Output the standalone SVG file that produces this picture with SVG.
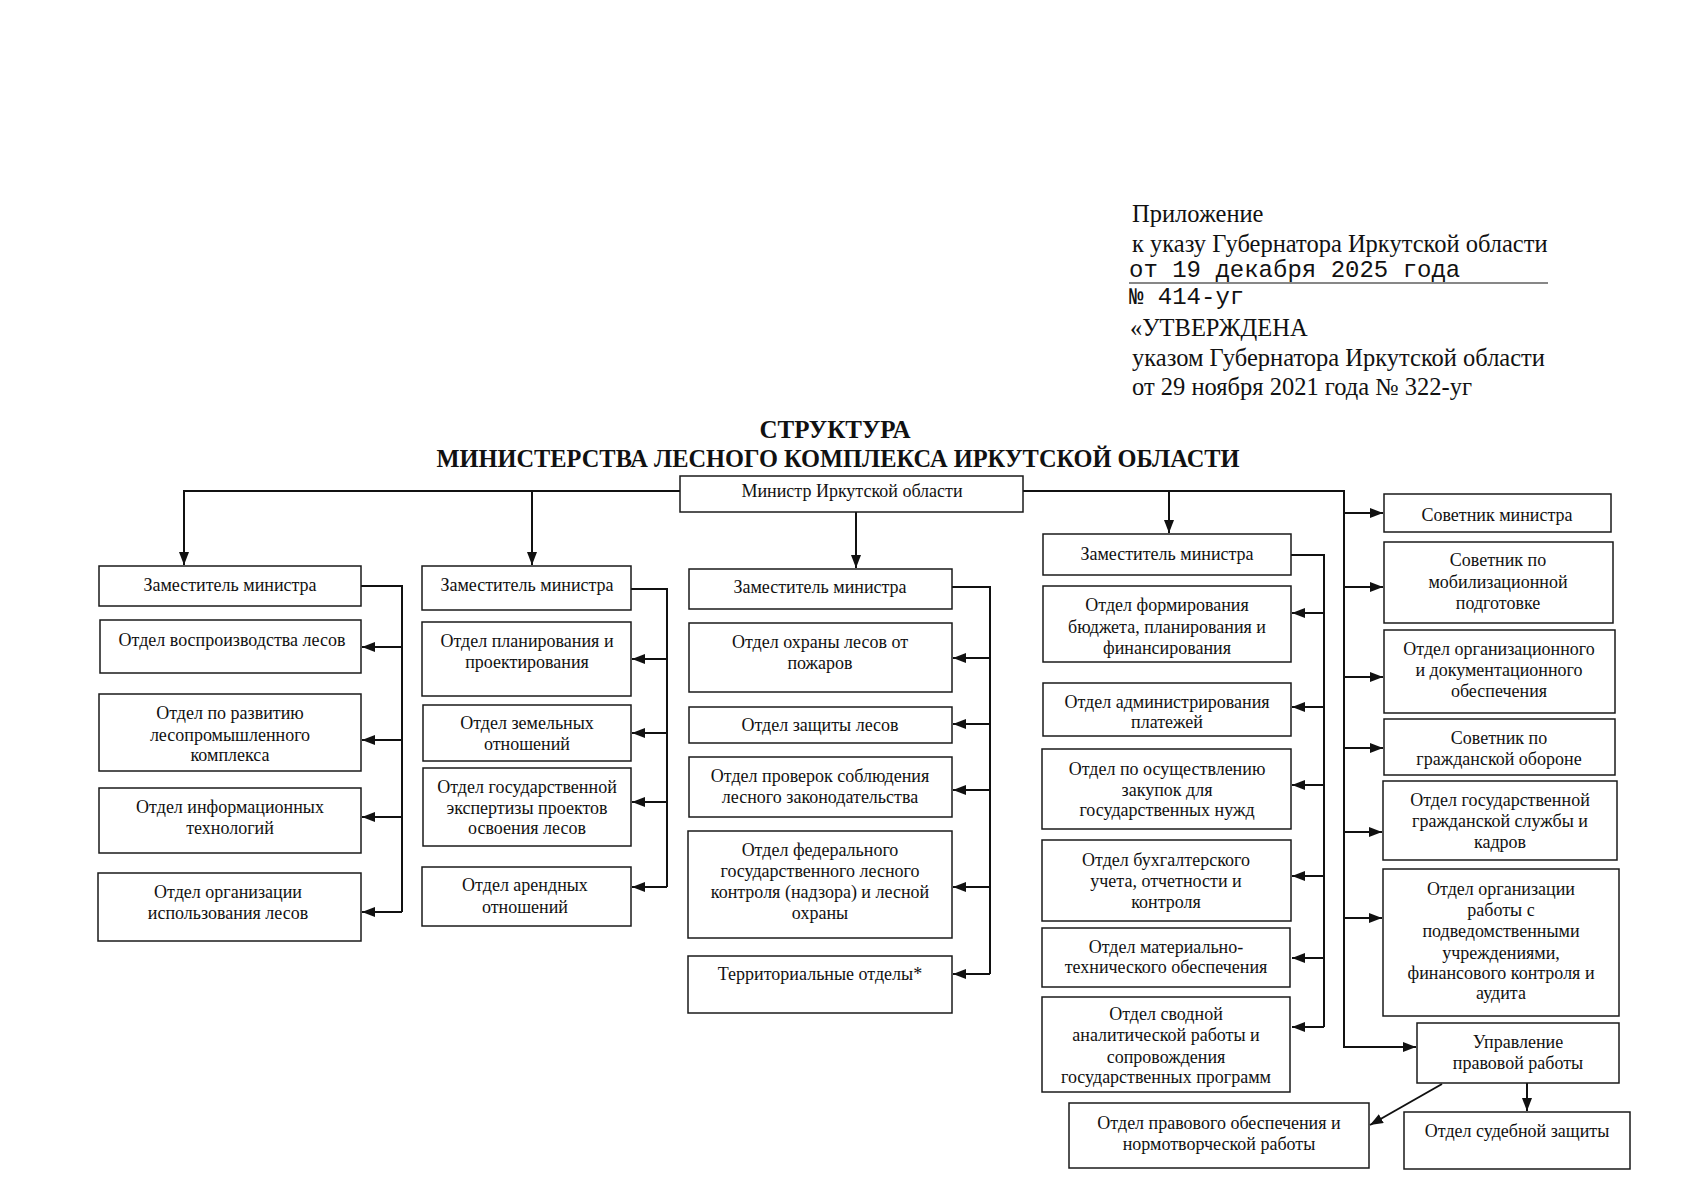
<svg xmlns="http://www.w3.org/2000/svg" width="1702" height="1200" viewBox="0 0 1702 1200">
<style>
.box{fill:#fff;stroke:#1a1a1a;stroke-width:1.5}
.t{font-family:"Liberation Serif","Times New Roman",serif;font-size:18px;text-anchor:middle;fill:#111}
.h{font-family:"Liberation Serif","Times New Roman",serif;font-size:24.5px;fill:#111}
.m{font-family:"Liberation Mono","Courier New",monospace;font-size:24px;fill:#111}
.ttl{font-family:"Liberation Serif","Times New Roman",serif;font-size:25px;font-weight:bold;text-anchor:middle;fill:#111}
.c{stroke:#111;stroke-width:2;fill:none}
</style>
<defs>
<marker id="arr" markerWidth="14" markerHeight="10" refX="13" refY="5" orient="auto" markerUnits="userSpaceOnUse">
<path d="M0,0 L13,5 L0,10 z" fill="#111"/>
</marker>
</defs>
<rect width="1702" height="1200" fill="#fff"/>

<g id="header">
<text class="h" x="1132" y="222">Приложение</text>
<text class="h" x="1132" y="252">к указу Губернатора Иркутской области</text>
<text class="m" x="1129" y="277">от 19 декабря 2025 года</text>
<line x1="1129" y1="283" x2="1548" y2="283" stroke="#111" stroke-width="1.2"/>
<text class="m" x="1129" y="304">№ 414-уг</text>
<text class="h" x="1130" y="336">«УТВЕРЖДЕНА</text>
<text class="h" x="1132" y="366">указом Губернатора Иркутской области</text>
<text class="h" x="1132" y="395">от 29 ноября 2021 года № 322-уг</text>
</g>

<g id="title">
<text class="ttl" x="835" y="438">СТРУКТУРА</text>
<text class="ttl" x="838" y="467" textLength="803" lengthAdjust="spacingAndGlyphs">МИНИСТЕРСТВА ЛЕСНОГО КОМПЛЕКСА ИРКУТСКОЙ ОБЛАСТИ</text>
</g>

<g id="connectors">
<polyline class="c" points="680,491 184,491 184,565" marker-end="url(#arr)"/>
<line class="c" x1="532" y1="491" x2="532" y2="565" marker-end="url(#arr)"/>
<line class="c" x1="856" y1="512" x2="856" y2="568" marker-end="url(#arr)"/>
<polyline class="c" points="1023,491 1344,491 1344,1047 1416,1047" marker-end="url(#arr)"/>
<line class="c" x1="1169" y1="491" x2="1169" y2="533" marker-end="url(#arr)"/>
<line class="c" x1="1344" y1="513" x2="1383" y2="513" marker-end="url(#arr)"/>
<line class="c" x1="1344" y1="587" x2="1383" y2="587" marker-end="url(#arr)"/>
<line class="c" x1="1344" y1="677" x2="1383" y2="677" marker-end="url(#arr)"/>
<line class="c" x1="1344" y1="748" x2="1383" y2="748" marker-end="url(#arr)"/>
<line class="c" x1="1344" y1="832" x2="1382" y2="832" marker-end="url(#arr)"/>
<line class="c" x1="1344" y1="918" x2="1382" y2="918" marker-end="url(#arr)"/>
<line class="c" x1="1527" y1="1083" x2="1527" y2="1111" marker-end="url(#arr)"/>
<line class="c" x1="1442" y1="1084" x2="1370" y2="1125" marker-end="url(#arr)"/>
<polyline class="c" points="361,586 402,586 402,912"/>
<line class="c" x1="402" y1="647" x2="362" y2="647" marker-end="url(#arr)"/>
<line class="c" x1="402" y1="740" x2="362" y2="740" marker-end="url(#arr)"/>
<line class="c" x1="402" y1="817" x2="362" y2="817" marker-end="url(#arr)"/>
<line class="c" x1="402" y1="912" x2="362" y2="912" marker-end="url(#arr)"/>
<polyline class="c" points="631,589 667,589 667,887"/>
<line class="c" x1="667" y1="659" x2="632" y2="659" marker-end="url(#arr)"/>
<line class="c" x1="667" y1="733" x2="632" y2="733" marker-end="url(#arr)"/>
<line class="c" x1="667" y1="802" x2="632" y2="802" marker-end="url(#arr)"/>
<line class="c" x1="667" y1="887" x2="632" y2="887" marker-end="url(#arr)"/>
<polyline class="c" points="952,587 990,587 990,974"/>
<line class="c" x1="990" y1="658" x2="953" y2="658" marker-end="url(#arr)"/>
<line class="c" x1="990" y1="724" x2="953" y2="724" marker-end="url(#arr)"/>
<line class="c" x1="990" y1="790" x2="953" y2="790" marker-end="url(#arr)"/>
<line class="c" x1="990" y1="887" x2="953" y2="887" marker-end="url(#arr)"/>
<line class="c" x1="990" y1="974" x2="953" y2="974" marker-end="url(#arr)"/>
<polyline class="c" points="1291,555 1324,555 1324,1027"/>
<line class="c" x1="1324" y1="613" x2="1292" y2="613" marker-end="url(#arr)"/>
<line class="c" x1="1324" y1="707" x2="1292" y2="707" marker-end="url(#arr)"/>
<line class="c" x1="1324" y1="785" x2="1292" y2="785" marker-end="url(#arr)"/>
<line class="c" x1="1324" y1="876" x2="1292" y2="876" marker-end="url(#arr)"/>
<line class="c" x1="1324" y1="958" x2="1292" y2="958" marker-end="url(#arr)"/>
<line class="c" x1="1324" y1="1027" x2="1292" y2="1027" marker-end="url(#arr)"/>
</g>

<g id="minister"><rect class="box" x="680" y="476" width="343" height="36"/><text class="t" x="852" y="497">Министр Иркутской области</text></g>

<g id="dep1"><rect class="box" x="99" y="566" width="262" height="40"/><text class="t" x="230" y="591">Заместитель министра</text></g>
<g id="n1a"><rect class="box" x="100" y="620" width="261" height="53"/><text class="t" x="232" y="646">Отдел воспроизводства лесов</text></g>
<g id="n1b"><rect class="box" x="99" y="694" width="262" height="77"/><text class="t" x="230" y="719">Отдел по развитию</text><text class="t" x="230" y="741">лесопромышленного</text><text class="t" x="230" y="761">комплекса</text></g>
<g id="n1c"><rect class="box" x="99" y="788" width="262" height="65"/><text class="t" x="230" y="813">Отдел информационных</text><text class="t" x="230" y="834">технологий</text></g>
<g id="n1d"><rect class="box" x="98" y="873" width="263" height="68"/><text class="t" x="228" y="898">Отдел организации</text><text class="t" x="228" y="919">использования лесов</text></g>

<g id="dep2"><rect class="box" x="422" y="566" width="209" height="44"/><text class="t" x="527" y="591">Заместитель министра</text></g>
<g id="n2a"><rect class="box" x="422" y="622" width="209" height="74"/><text class="t" x="527" y="647">Отдел планирования и</text><text class="t" x="527" y="668">проектирования</text></g>
<g id="n2b"><rect class="box" x="423" y="705" width="208" height="56"/><text class="t" x="527" y="729">Отдел земельных</text><text class="t" x="527" y="750">отношений</text></g>
<g id="n2c"><rect class="box" x="423" y="768" width="208" height="78"/><text class="t" x="527" y="793">Отдел государственной</text><text class="t" x="527" y="814">экспертизы проектов</text><text class="t" x="527" y="834">освоения лесов</text></g>
<g id="n2d"><rect class="box" x="422" y="867" width="209" height="59"/><text class="t" x="525" y="891">Отдел арендных</text><text class="t" x="525" y="913">отношений</text></g>

<g id="dep3"><rect class="box" x="689" y="569" width="263" height="40"/><text class="t" x="820" y="593">Заместитель министра</text></g>
<g id="n3a"><rect class="box" x="689" y="623" width="263" height="69"/><text class="t" x="820" y="648">Отдел охраны лесов от</text><text class="t" x="820" y="669">пожаров</text></g>
<g id="n3b"><rect class="box" x="689" y="707" width="263" height="36"/><text class="t" x="820" y="731">Отдел защиты лесов</text></g>
<g id="n3c"><rect class="box" x="689" y="757" width="263" height="60"/><text class="t" x="820" y="782">Отдел проверок соблюдения</text><text class="t" x="820" y="803">лесного законодательства</text></g>
<g id="n3d"><rect class="box" x="688" y="831" width="264" height="107"/><text class="t" x="820" y="856">Отдел федерального</text><text class="t" x="820" y="877">государственного лесного</text><text class="t" x="820" y="898">контроля (надзора) и лесной</text><text class="t" x="820" y="919">охраны</text></g>
<g id="n3e"><rect class="box" x="688" y="956" width="264" height="57"/><text class="t" x="820" y="980">Территориальные отделы*</text></g>

<g id="dep4"><rect class="box" x="1043" y="534" width="248" height="41"/><text class="t" x="1167" y="560">Заместитель министра</text></g>
<g id="n4a"><rect class="box" x="1043" y="586" width="248" height="76"/><text class="t" x="1167" y="611">Отдел формирования</text><text class="t" x="1167" y="633">бюджета, планирования и</text><text class="t" x="1167" y="654">финансирования</text></g>
<g id="n4b"><rect class="box" x="1043" y="683" width="248" height="53"/><text class="t" x="1167" y="708">Отдел администрирования</text><text class="t" x="1167" y="728">платежей</text></g>
<g id="n4c"><rect class="box" x="1042" y="749" width="249" height="80"/><text class="t" x="1167" y="775">Отдел по осуществлению</text><text class="t" x="1167" y="796">закупок для</text><text class="t" x="1167" y="816">государственных нужд</text></g>
<g id="n4d"><rect class="box" x="1042" y="840" width="249" height="81"/><text class="t" x="1166" y="866">Отдел бухгалтерского</text><text class="t" x="1166" y="887">учета, отчетности и</text><text class="t" x="1166" y="908">контроля</text></g>
<g id="n4e"><rect class="box" x="1042" y="928" width="248" height="59"/><text class="t" x="1166" y="953">Отдел материально-</text><text class="t" x="1166" y="973">технического обеспечения</text></g>
<g id="n4f"><rect class="box" x="1042" y="997" width="248" height="95"/><text class="t" x="1166" y="1020">Отдел сводной</text><text class="t" x="1166" y="1041">аналитической работы и</text><text class="t" x="1166" y="1063">сопровождения</text><text class="t" x="1166" y="1083">государственных программ</text></g>

<g id="n5a"><rect class="box" x="1384" y="494" width="227" height="38"/><text class="t" x="1497" y="521">Советник министра</text></g>
<g id="n5b"><rect class="box" x="1384" y="542" width="229" height="81"/><text class="t" x="1498" y="566">Советник по</text><text class="t" x="1498" y="588">мобилизационной</text><text class="t" x="1498" y="609">подготовке</text></g>
<g id="n5c"><rect class="box" x="1384" y="630" width="231" height="83"/><text class="t" x="1499" y="655">Отдел организационного</text><text class="t" x="1499" y="676">и документационного</text><text class="t" x="1499" y="697">обеспечения</text></g>
<g id="n5d"><rect class="box" x="1384" y="719" width="231" height="56"/><text class="t" x="1499" y="744">Советник по</text><text class="t" x="1499" y="765">гражданской обороне</text></g>
<g id="n5e"><rect class="box" x="1383" y="781" width="234" height="79"/><text class="t" x="1500" y="806">Отдел государственной</text><text class="t" x="1500" y="827">гражданской службы и</text><text class="t" x="1500" y="848">кадров</text></g>
<g id="n5f"><rect class="box" x="1383" y="869" width="236" height="147"/><text class="t" x="1501" y="895">Отдел организации</text><text class="t" x="1501" y="916">работы с</text><text class="t" x="1501" y="937">подведомственными</text><text class="t" x="1501" y="959">учреждениями,</text><text class="t" x="1501" y="979">финансового контроля и</text><text class="t" x="1501" y="999">аудита</text></g>
<g id="n5g"><rect class="box" x="1417" y="1023" width="202" height="60"/><text class="t" x="1518" y="1048">Управление</text><text class="t" x="1518" y="1069">правовой работы</text></g>
<g id="n5h"><rect class="box" x="1404" y="1112" width="226" height="57"/><text class="t" x="1517" y="1137">Отдел судебной защиты</text></g>
<g id="n5i"><rect class="box" x="1069" y="1103" width="300" height="65"/><text class="t" x="1219" y="1129">Отдел правового обеспечения и</text><text class="t" x="1219" y="1150">нормотворческой работы</text></g>
</svg>
